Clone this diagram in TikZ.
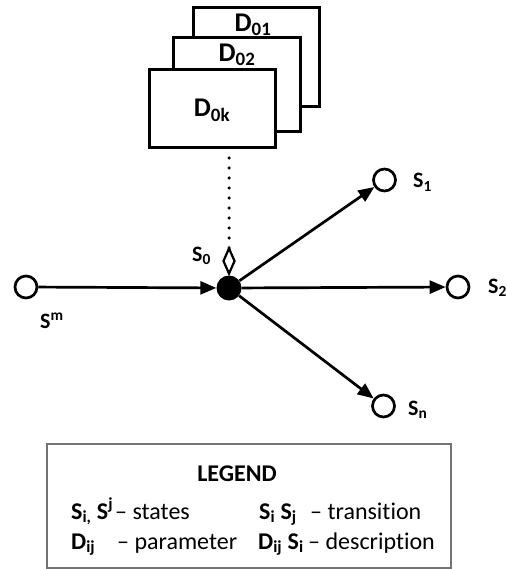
\documentclass[tikz,border=0pt]{standalone}
\usepackage{fontspec}
\setmainfont{Carlito}[Ligatures={NoCommon}]
\usetikzlibrary{arrows.meta,shapes.geometric}
\newcommand\mydn[1]{\textsubscript{#1}}
\newcommand\myup[1]{\textsuperscript{#1}}
\begin{document}
\begin{tikzpicture}[x=1pt,y=-1pt,
  state/.style={circle,draw,line width=2.7pt,minimum size=22pt,inner sep=0pt},
  hubst/.style={circle,fill,minimum size=25pt,inner sep=0pt},
  dbox/.style={draw,line width=3pt,fill=white,inner sep=0pt},
  lbl/.style={font=\fontsize{22}{25}\selectfont\bfseries,inner sep=0pt},
  dlbl/.style={font=\fontsize{27}{30}\selectfont\bfseries,inner sep=0pt,anchor=base},
  leg/.style={font=\fontsize{24}{28}\selectfont,inner sep=0pt,anchor=base west},
  arr/.style={-{Triangle[length=16pt,width=13pt]},line width=2.7pt}
]
\useasboundingbox (0,0) rectangle (506,569);
% parameter boxes
\node[dbox,minimum width=126pt,minimum height=99pt] (d1) at (256.5,57) {};
\node[dlbl] (d1l) at (253,32) {D\mydn{01}};
\node[dbox,minimum width=127pt,minimum height=94pt] (d2) at (237,84.5) {};
\node[dlbl] (d2l) at (237,62) {D\mydn{02}};
\node[dbox,minimum width=126pt,minimum height=78pt] (dk) at (212.5,108.5) {};
\node[dlbl] (dkl) at (212,117) {D\mydn{0k}};
% diamond and dotted link
\node[diamond,draw,line width=2.2pt,minimum width=12pt,minimum height=26pt,inner sep=0pt] (dia) at (229,261) {};
\coordinate (dtop) at (229,158);
\draw[line width=3.5pt,line cap=round,dash pattern=on 0pt off 10pt] (dtop) -- ([yshift=-8pt]dia.north);
% states
\node[hubst] (hub) at (229,288) {};
\node[state] (sm) at (26,287) {};
\node[state] (s1) at (384.5,180) {};
\node[state] (s2) at (458,287) {};
\node[state] (sn) at (383.5,406) {};
% arrows
\draw[arr] (sm) -- (hub);
\draw[arr] (hub) -- (s1);
\draw[arr] (hub) -- (s2);
\draw[arr] (hub) -- (sn);
% state labels
\node[lbl,anchor=base west] (s0l) at (192,261) {S\mydn{0}};
\node[lbl,anchor=base west] (sml) at (40,328) {S\myup{m}};
\node[lbl,anchor=base west] (s1l) at (413,188) {S\mydn{1}};
\node[lbl,anchor=base west] (s2l) at (488,293) {S\mydn{2}};
\node[lbl,anchor=base west] (snl) at (408,415) {S\mydn{n}};
% legend
\node[draw=black!55,line width=1.5pt,minimum width=404pt,minimum height=124pt,inner sep=0pt] (legend) at (249,506) {};
\node[font=\fontsize{24}{28}\selectfont\bfseries,inner sep=0pt,anchor=base] (legt) at (237,481) {LEGEND};
\node[leg] (l1a) at (71,519) {\bfseries S\mydn{i,} S\myup{j}};
\node[leg] (l1b) at (115,519) {– states};
\node[leg] (l2a) at (71,549) {\bfseries D\mydn{ij}};
\node[leg] (l2b) at (117,549) {– parameter};
\node[leg] (l3a) at (259,519) {\bfseries S\mydn{i} S\mydn{j}};
\node[leg] (l3b) at (310,519) {– transit\kern0pt ion};
\node[leg] (l4a) at (258,549) {\bfseries D\mydn{ij} S\mydn{i}};
\node[leg] (l4b) at (308,549) {– descript\kern0pt ion};
\end{tikzpicture}
\end{document}
